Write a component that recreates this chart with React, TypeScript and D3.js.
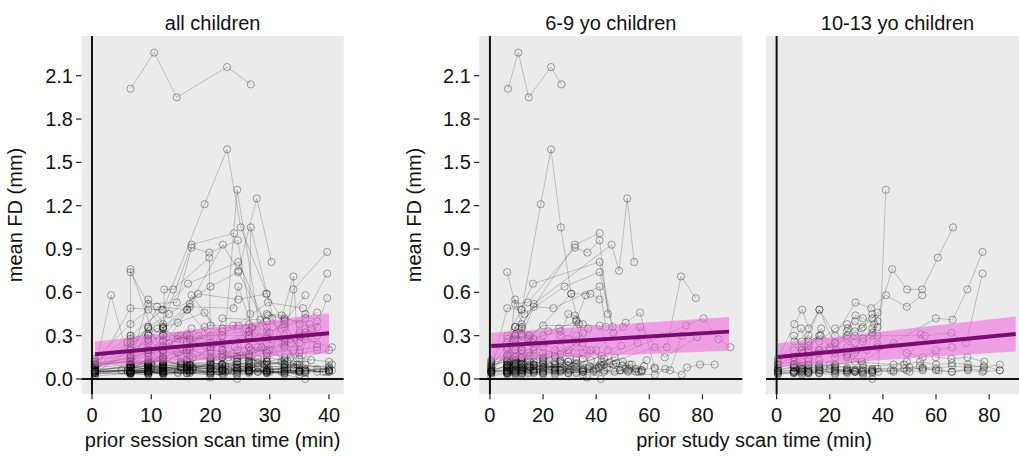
import React from "react";
import * as d3 from "d3";

// each scan: [prior session scan time (min), prior study scan time (min), mean FD (mm)]
type Scan = [number, number, number];

const kids6to9: Scan[][] = [
  [[6.5, 6.8, 2.01], [10.5, 10.7, 2.26], [14.3, 14.6, 1.95], [22.8, 23.0, 2.16], [26.8, 26.9, 2.04]],
  [[0.5, 0.5, 0.12], [6.5, 6.5, 0.3], [12, 12, 0.48], [19, 19.1, 1.21], [22.8, 23.0, 1.59], [25.1, 26.7, 1.05], [29.5, 30.6, 0.59], [32.5, 33.5, 0.38], [35, 36.5, 0.2]],
  [[0.5, 0.5, 0.08], [6.5, 6.5, 0.16], [9.5, 9.5, 0.28], [12, 12, 0.36], [16.5, 16.5, 0.52], [22.1, 45.8, 0.93], [24.7, 48.6, 0.75], [27.8, 51.7, 1.25], [30.3, 54.3, 0.81]],
  [[6.5, 6.5, 0.1], [9.5, 9.5, 0.55], [12, 12, 0.38], [16.8, 32.0, 0.93], [24.0, 41.3, 1.01]],
  [[6.5, 6.5, 0.74], [9.5, 9.5, 0.52], [14.3, 14.3, 0.53], [16.8, 32.0, 0.91], [19.8, 36.7, 0.875], [24.6, 41.3, 0.96], [26.7, 44.4, 0.45]],
  [[0.5, 0.5, 0.06], [6.5, 6.5, 0.49], [11.8, 11.8, 0.48], [16.2, 16.2, 0.66], [24.7, 41.3, 0.81], [29.5, 46.2, 0.36]],
  [[0.5, 0.5, 0.04], [6.5, 6.5, 0.2], [9.5, 9.5, 0.36], [13, 13, 0.45], [20, 28.1, 0.64], [24.7, 41.3, 0.74], [30, 46.5, 0.32]],
  [[6.5, 6.5, 0.06], [9.5, 9.5, 0.15], [12, 12, 0.3], [16.5, 16.5, 0.5], [23.9, 23.9, 0.49], [24.7, 41.3, 0.64], [27, 43.6, 0.36]],
  [[6.5, 6.5, 0.08], [9.5, 9.5, 0.12], [12, 12, 0.22], [17.9, 30.6, 0.59], [29.4, 37.8, 0.59], [24.7, 41.3, 0.55]],
  [[0.5, 0.5, 0.05], [6.5, 6.5, 0.1], [9.5, 9.5, 0.27], [12, 12, 0.2], [15, 15, 0.3], [20, 20, 0.37], [24.7, 41.3, 0.37], [26.8, 44.4, 0.2], [32.5, 49.4, 0.23]],
  [[6.5, 6.5, 0.08], [12, 12, 0.06], [20, 20, 0.05], [29.5, 29.5, 0.07], [35, 35, 0.05], [24.1, 62.1, 0.22], [28.6, 66.6, 0.22], [34.0, 71.9, 0.71], [39.7, 77.5, 0.56]],
  [[0.5, 0.5, 0.05], [9.5, 9.5, 0.06], [16.5, 16.5, 0.1], [26.5, 26.5, 0.08], [35, 35, 0.06], [23.8, 73.8, 0.37], [30.4, 80.4, 0.42], [36, 86, 0.275], [40.5, 90.5, 0.22]],
  [[6.5, 6.5, 0.04], [12, 12, 0.05], [20, 20, 0.04], [29.5, 29.5, 0.05], [12.1, 62.1, 0.03], [16, 66, 0.07], [22.2, 72.2, 0.03], [24.2, 74.2, 0.08], [29.1, 79.1, 0.1], [34.6, 84.6, 0.1]],
  [[0.5, 0.5, 0.06], [6.5, 6.5, 0.05], [12, 12, 0.07], [24.5, 24.5, 0.06], [32.5, 32.5, 0.08], [12, 50.2, 0.36], [14.5, 51.1, 0.39], [19, 56.5, 0.46], [24.5, 62.1, 0.07], [29.5, 67.8, 0.06], [35, 72.2, 0.3]],
  [[6.5, 6.5, 0.05], [9.5, 9.5, 0.06], [15, 15, 0.08], [20, 20, 0.07], [26.5, 26.5, 0.06], [13, 55.6, 0.25], [19, 56.5, 0.36], [23, 65.8, 0.15], [35.2, 78, 0.29]],
  [[0.5, 0.5, 0.04], [6.5, 6.5, 0.04], [9.5, 9.5, 0.05], [12, 12, 0.04], [16.5, 16.5, 0.05], [20, 20, 0.04], [24.5, 24.5, 0.05], [29.5, 29.5, 0.04], [35, 35, 0.05], [40, 40, 0.07]],
  [[6.5, 6.5, 0.05], [9.5, 9.5, 0.07], [12, 12, 0.09], [15, 15, 0.06], [20, 20, 0.1], [24.5, 24.5, 0.08], [29.5, 29.5, 0.12], [32.5, 32.5, 0.1]],
  [[0.5, 0.5, 0.1], [6.5, 6.5, 0.12], [9.5, 9.5, 0.1], [12, 12, 0.15], [16.5, 16.5, 0.12], [22, 22, 0.1], [26.5, 26.5, 0.13], [32.5, 32.5, 0.11], [19.9, 36.5, 0.01], [24.5, 41.7, 0.0]],
  [[6.5, 6.5, 0.06], [9.5, 9.5, 0.08], [12, 12, 0.1], [14.5, 14.5, 0.18], [20, 20, 0.22], [26.5, 26.5, 0.3], [29.5, 29.5, 0.45], [32, 32, 0.44], [35, 35, 0.38]],
  [[6.5, 6.5, 0.22], [9.5, 9.5, 0.36], [12, 12, 0.31], [16.5, 16.5, 0.28], [20, 20, 0.18], [24.5, 24.5, 0.15], [29.5, 29.5, 0.12]],
  [[0.5, 0.5, 0.07], [6.5, 6.5, 0.08], [9.5, 9.5, 0.09], [12, 12, 0.06], [15, 15, 0.08], [20, 37.5, 0.09], [24.5, 42, 0.12], [29.5, 47, 0.15], [35, 52.5, 0.1]],
  [[6.5, 6.5, 0.1], [9.5, 9.5, 0.13], [12, 12, 0.12], [16.5, 16.5, 0.09], [20, 37, 0.07], [24.5, 41.5, 0.1], [26.5, 44, 0.08], [32.5, 49.8, 0.09], [36, 53.4, 0.1], [40, 57.3, 0.06]],
  [[6.5, 6.5, 0.05], [9.5, 9.5, 0.04], [12, 12, 0.06], [14.5, 14.5, 0.04], [20, 20, 0.05], [22.5, 39, 0.05], [26.5, 43, 0.06], [30, 47, 0.05], [35, 52, 0.06], [39, 56, 0.05]],
  [[0.5, 0.5, 0.13], [6.5, 6.5, 0.17], [9.5, 9.5, 0.3], [12, 12, 0.27], [16, 16, 0.25], [20, 20, 0.3], [26.5, 26.5, 0.33], [29.5, 29.5, 0.28], [32.5, 32.5, 0.41], [35, 35, 0.18]],
  [[6.5, 6.5, 0.09], [9.5, 9.5, 0.18], [12, 12, 0.2], [15, 15, 0.16], [20, 20, 0.14], [24.5, 24.5, 0.16], [29.5, 29.5, 0.18], [32.5, 32.5, 0.22], [35, 35, 0.14], [40, 40, 0.2]],
  [[0.5, 0.5, 0.05], [6.5, 6.5, 0.07], [9.5, 9.5, 0.1], [12, 12, 0.08], [16.5, 16.5, 0.06], [21, 38, 0.13], [25, 42, 0.16], [29.5, 46.5, 0.1], [33, 50, 0.12], [38, 55, 0.05]],
  [[6.5, 6.5, 0.04], [9.5, 9.5, 0.05], [12, 12, 0.04], [16.5, 16.5, 0.07], [24.5, 24.5, 0.06], [12, 35, 0.07], [16, 39, 0.06], [20, 43, 0.05], [26.5, 49, 0.06], [32.5, 55, 0.07], [37, 59, 0.13]],
  [[0.5, 0.5, 0.09], [6.5, 6.5, 0.13], [9.5, 9.5, 0.16], [12, 12, 0.11], [16.5, 16.5, 0.2], [20, 20, 0.25], [24.5, 24.5, 0.2], [26.5, 26.5, 0.17], [32.5, 32.5, 0.25], [35, 35, 0.32]],
  [[6.5, 6.5, 0.28], [9.5, 9.5, 0.31], [11, 11, 0.35], [14.5, 14.5, 0.3], [16.5, 16.5, 0.27], [22, 22, 0.33], [26, 26, 0.35], [32.5, 32.5, 0.4], [36, 36, 0.58]],
  [[6.5, 6.5, 0.03], [9.5, 9.5, 0.06], [12, 12, 0.03], [16.5, 16.5, 0.05], [20, 20, 0.06], [24.5, 24.5, 0.03], [29.5, 29.5, 0.04], [32.5, 32.5, 0.05], [35, 35, 0.03]],
  [[0.5, 0.5, 0.11], [6.5, 6.5, 0.14], [9.5, 9.5, 0.11], [12, 12, 0.13], [15, 15, 0.1], [20, 20, 0.12], [22.5, 22.5, 0.09], [26.5, 26.5, 0.11]],
  [[6.5, 6.5, 0.07], [9.5, 9.5, 0.09], [12, 12, 0.14], [16.5, 16.5, 0.1], [20, 20, 0.08], [10, 45, 0.11], [16, 51, 0.07], [22, 57, 0.06], [28, 62, 0.08]],
  [[0.5, 0.5, 0.05], [6.5, 6.5, 0.06], [9.5, 9.5, 0.04], [12, 12, 0.07], [14.5, 14.5, 0.05], [16.5, 16.5, 0.06], [20, 20, 0.08], [24.5, 24.5, 0.07], [26.5, 26.5, 0.05], [30, 30, 0.06]],
  [[6.5, 6.5, 0.09], [9.5, 9.5, 0.1], [12, 12, 0.08], [15, 15, 0.12], [20, 20, 0.15], [24.5, 24.5, 0.12], [9.5, 42, 0.09], [15, 47.5, 0.11], [20, 52.5, 0.07], [26.5, 58, 0.09]],
  [[0.5, 0.5, 0.02], [6.5, 6.5, 0.04], [9.5, 9.5, 0.03], [12, 12, 0.05], [16.5, 16.5, 0.04], [20, 20, 0.03], [24.5, 24.5, 0.04], [26.5, 26.5, 0.06], [32.5, 32.5, 0.04], [35, 35, 0.06], [40, 40, 0.05]],
  [[6.5, 6.5, 0.12], [9.5, 9.5, 0.2], [12, 12, 0.35], [14.5, 14.5, 0.28], [16.5, 16.5, 0.16], [22, 22, 0.17], [26.5, 26.5, 0.22], [32.5, 32.5, 0.15], [38, 38, 0.2], [24.5, 43, 0.14]],
  [[0.5, 0.5, 0.08], [6.5, 6.5, 0.25], [9.5, 9.5, 0.3], [12, 12, 0.15], [16.5, 16.5, 0.22], [20, 20, 0.13], [29.5, 29.5, 0.2], [32.5, 32.5, 0.3], [35, 35, 0.25], [37, 37, 0.35]],
  [[6.5, 6.5, 0.06], [9.5, 9.5, 0.05], [12, 12, 0.08], [16.5, 16.5, 0.09], [24.5, 41, 0.08], [26.5, 43, 0.1], [32.5, 49, 0.06], [35, 52, 0.05], [40, 57, 0.05]],
  [[0.5, 0.5, 0.06], [6.5, 6.5, 0.09], [9.5, 9.5, 0.11], [12, 12, 0.1], [15, 15, 0.09], [20, 20, 0.11], [24.5, 24.5, 0.1], [26.5, 26.5, 0.12], [29.5, 29.5, 0.09], [32.5, 32.5, 0.13]],
];

const kids10to13: Scan[][] = [
  [[0.5, 0.5, 0.08], [6.5, 6.5, 0.1], [12, 12, 0.12], [20, 20, 0.2], [26.5, 26.5, 0.16], [32.5, 32.5, 0.1], [6.5, 43.5, 0.76], [12.2, 49.1, 0.62], [13.7, 54.8, 0.62], [19.8, 60.7, 0.84], [26.8, 66.4, 1.05]],
  [[0.5, 0.5, 0.06], [6.5, 6.5, 0.09], [16.1, 16.1, 0.48], [22, 22, 0.3], [29.7, 29.7, 0.53], [35.6, 35.6, 0.49], [3.2, 41.2, 0.58], [11, 49, 0.5], [16.8, 54.8, 0.58]],
  [[0.5, 0.5, 0.05], [6.5, 6.5, 0.06], [9.5, 9.5, 0.05], [16, 16, 0.07], [22, 22, 0.06], [29.5, 29.5, 0.05], [36, 36, 0.04], [21.5, 38.3, 0.05], [24.5, 41.1, 1.31]],
  [[0.5, 0.5, 0.05], [9.5, 9.5, 0.07], [20, 20, 0.1], [32, 32, 0.12], [22, 59.9, 0.42], [28.4, 66.2, 0.41], [34, 71.8, 0.62], [39.7, 77.5, 0.88]],
  [[6.5, 6.5, 0.1], [16, 16, 0.2], [26.5, 26.5, 0.3], [18, 55.8, 0.3], [27.5, 65.8, 0.32], [33.5, 71.3, 0.25], [39.7, 77.5, 0.73]],
  [[0.5, 0.5, 0.14], [6.5, 6.7, 0.38], [9.5, 9.6, 0.48], [12, 12.1, 0.35], [16, 16.1, 0.48], [22, 22.5, 0.2], [27, 26.9, 0.35], [29.7, 29.7, 0.44], [32.5, 32.5, 0.42], [36.7, 36.7, 0.38]],
  [[0.5, 0.5, 0.12], [6.5, 6.7, 0.26], [9.5, 9.2, 0.35], [12, 12, 0.2], [16.8, 16.8, 0.35], [20, 20, 0.22], [26.5, 26.5, 0.28], [30, 30, 0.2], [36, 36, 0.3], [38, 38, 0.24]],
  [[6.5, 6.5, 0.05], [9.5, 9.5, 0.06], [12, 12, 0.04], [16, 16, 0.05], [22, 22, 0.06], [26.5, 26.5, 0.07], [32, 32, 0.05], [36, 36, 0.06], [6, 44, 0.05], [11, 49, 0.06], [17, 55, 0.08], [22, 60, 0.06], [28, 66, 0.05], [34, 72, 0.06], [39.5, 77.5, 0.05], [40, 84, 0.06]],
  [[0.5, 0.5, 0.04], [6.5, 6.5, 0.04], [9.5, 9.5, 0.05], [12, 12, 0.04], [16, 16, 0.04], [22, 22, 0.05], [26.5, 26.5, 0.05], [29.5, 29.5, 0.06], [32.5, 32.5, 0.04], [36, 36, 0.05]],
  [[6.5, 6.5, 0.08], [9.5, 9.5, 0.12], [12, 12, 0.1], [16, 16, 0.13], [22, 22, 0.1], [29.5, 29.5, 0.12], [6.5, 44, 0.1], [11, 49, 0.12], [16, 54.2, 0.31], [22, 59.9, 0.15], [28, 65.8, 0.14], [33.5, 71.8, 0.15], [40, 78.2, 0.12]],
  [[0.5, 0.5, 0.1], [6.5, 6.5, 0.15], [9.5, 9.5, 0.2], [12, 12, 0.26], [16.5, 16.5, 0.3], [22, 22, 0.25], [26.5, 26.5, 0.33], [29.5, 29.5, 0.4], [32, 32, 0.35], [36, 36, 0.42], [38, 38, 0.46]],
  [[6.5, 6.5, 0.04], [9.5, 9.5, 0.03], [12, 12, 0.05], [16, 16, 0.04], [22, 22, 0.03], [26.5, 26.5, 0.04], [29.5, 29.5, 0.05], [32.5, 32.5, 0.03], [36, 36, 0.0]],
  [[0.5, 0.5, 0.06], [6.5, 6.5, 0.08], [9.5, 9.5, 0.07], [12, 12, 0.09], [16, 16, 0.1], [22, 22, 0.09], [26.5, 26.5, 0.08], [10, 48, 0.07], [16, 54, 0.09], [22, 60, 0.07], [28, 66, 0.09], [34, 72, 0.08], [40, 78, 0.09], [40.5, 84, 0.06]],
  [[6.5, 6.5, 0.3], [9.5, 9.5, 0.22], [12, 12, 0.18], [16, 16, 0.2], [22, 22, 0.15], [26.5, 26.5, 0.17], [29.5, 29.5, 0.25], [32.5, 32.5, 0.28], [36, 36, 0.32], [38, 38, 0.36]],
  [[0.5, 0.5, 0.03], [6.5, 6.5, 0.05], [9.5, 9.5, 0.08], [12, 12, 0.05], [16.5, 16.5, 0.06], [20, 20, 0.07], [26.5, 26.5, 0.06], [32.5, 32.5, 0.05], [36, 36, 0.07], [5, 43, 0.06], [12, 50, 0.08], [17, 55, 0.07], [23, 61, 0.06], [28, 66, 0.05], [34, 72, 0.07], [40, 78, 0.06]],
  [[6.5, 6.5, 0.15], [9.5, 9.5, 0.18], [12, 12, 0.14], [16, 16, 0.18], [22, 22, 0.25], [26.5, 26.5, 0.15], [29.5, 29.5, 0.18], [34, 34, 0.2], [38, 38, 0.22], [6, 44, 0.25], [11, 49, 0.18], [17, 55, 0.15], [22, 60, 0.2], [28, 66, 0.22]],
  [[0.5, 0.5, 0.04], [6.5, 6.5, 0.05], [9.5, 9.5, 0.06], [12, 12, 0.05], [16, 16, 0.06], [22, 22, 0.04], [26.5, 26.5, 0.06], [29.5, 29.5, 0.05], [32.5, 32.5, 0.06], [36, 36, 0.05], [6, 44, 0.06], [12, 50, 0.05], [17, 55, 0.06]],
  [[0.5, 0.5, 0.1], [6.5, 6.5, 0.12], [9.5, 9.5, 0.2], [12, 12, 0.23], [16, 16, 0.3], [22, 22, 0.18], [26.5, 26.5, 0.22], [29.5, 29.5, 0.3], [32.5, 32.5, 0.26], [36, 36, 0.35], [38, 38, 0.3]],
  [[6.5, 6.5, 0.05], [9.5, 9.5, 0.04], [12, 12, 0.06], [16, 16, 0.08], [22, 22, 0.07], [26.5, 26.5, 0.05], [29.5, 29.5, 0.06], [32.5, 32.5, 0.08], [36, 36, 0.06], [38, 38, 0.07]],
  [[0.5, 0.5, 0.07], [6.5, 6.5, 0.2], [9.5, 9.5, 0.26], [12, 12, 0.3], [16, 16, 0.26], [22, 22, 0.35], [26.5, 26.5, 0.38], [29.5, 29.5, 0.33], [32.5, 32.5, 0.36], [36, 36, 0.45], [38, 38, 0.4]],
  [[6.5, 6.5, 0.08], [9.5, 9.5, 0.09], [12, 12, 0.07], [16, 16, 0.09], [22, 22, 0.08], [10, 48, 0.1], [16, 54, 0.12], [22, 60, 0.1], [28, 66, 0.11], [34, 72, 0.1], [40, 78, 0.08], [40.5, 84, 0.1]],
];

const yTicks = [0, 0.3, 0.6, 0.9, 1.2, 1.5, 1.8, 2.1];
const xTicksSession = [0, 10, 20, 30, 40];
const xTicksStudy = [0, 20, 40, 60, 80];

// model fit (line) with confidence band, at the ends of the fitted range
const fitAllX = [0.5, 40];
const fitAllY = [0.172, 0.316];
const fitAllLo = [0.09, 0.178];
const fitAllHi = [0.258, 0.455];

const fit69X = [0.5, 90];
const fit69Y = [0.228, 0.328];
const fit69Lo = [0.13, 0.196];
const fit69Hi = [0.32, 0.43];

const fit1013X = [0.5, 90];
const fit1013Y = [0.152, 0.312];
const fit1013Lo = [0.085, 0.19];
const fit1013Hi = [0.247, 0.432];

const FONT = "'Liberation Sans', Arial, Helvetica, sans-serif";
const TOP = 36;
const BOTTOM = 394.3;

type Fit = { x: number[]; y: number[]; lo: number[]; hi: number[] };

function Panel(props: {
  title: string;
  left: number;
  right: number;
  xDomain: [number, number];
  subjects: Scan[][];
  xi: number;
  xTicks: number[];
  fit: Fit;
  showY: boolean;
}) {
  const { title, left, right, xDomain, subjects, xi, xTicks, fit, showY } = props;
  const x = d3.scaleLinear().domain(xDomain).range([left, right]);
  const y = d3.scaleLinear().domain([-0.106, 2.375]).range([BOTTOM, TOP]);
  const line = d3
    .line<Scan>()
    .x((d) => x(d[xi]))
    .y((d) => y(d[2]));
  const fitPts = fit.x.map((v, i) => ({ x: v, y: fit.y[i], lo: fit.lo[i], hi: fit.hi[i] }));
  const area = d3
    .area<{ x: number; lo: number; hi: number }>()
    .x((d) => x(d.x))
    .y0((d) => y(d.lo))
    .y1((d) => y(d.hi));
  const fitLine = d3
    .line<{ x: number; y: number }>()
    .x((d) => x(d.x))
    .y((d) => y(d.y));
  const x0 = x(0);
  const y0 = y(0);
  return (
    <g>
      <rect x={left} y={TOP} width={right - left} height={BOTTOM - TOP} fill="#ebebeb" />
      <text x={(left + right) / 2} y={30} textAnchor="middle" fontFamily={FONT} fontSize={20} fill="#111">
        {title}
      </text>
      <line x1={left} x2={right} y1={y0} y2={y0} stroke="#111" strokeWidth={2} />
      <line x1={x0} x2={x0} y1={TOP} y2={BOTTOM} stroke="#111" strokeWidth={2} />
      {subjects.map((s, i) => {
        const sorted = [...s].sort((a, b) => a[xi] - b[xi]);
        return (
          <path key={"l" + i} d={line(sorted) || ""} fill="none" stroke="#000" strokeOpacity={0.3} strokeWidth={0.7} />
        );
      })}
      {subjects.map((s, i) =>
        s.map((d, j) => (
          <circle
            key={"c" + i + "-" + j}
            cx={x(d[xi])}
            cy={y(d[2])}
            r={3.6}
            fill="none"
            stroke="#000"
            strokeOpacity={0.45}
            strokeWidth={0.8}
          />
        ))
      )}
      <path d={area(fitPts) || ""} fill="#f060dc" fillOpacity={0.55} />
      <path d={fitLine(fitPts) || ""} fill="none" stroke="#780a70" strokeWidth={4} />
      {xTicks.map((t) => (
        <g key={"xt" + t}>
          <line x1={x(t)} x2={x(t)} y1={BOTTOM} y2={BOTTOM + 5} stroke="#222" strokeWidth={1.2} />
          <text x={x(t)} y={422} textAnchor="middle" fontFamily={FONT} fontSize={20} fill="#111">
            {t}
          </text>
        </g>
      ))}
      {showY &&
        yTicks.map((t) => (
          <g key={"yt" + t}>
            <line x1={left - 5.5} x2={left} y1={y(t)} y2={y(t)} stroke="#222" strokeWidth={1.2} />
            <text x={left - 8.5} y={y(t)} dy="0.35em" textAnchor="end" fontFamily={FONT} fontSize={20} fill="#111">
              {t.toFixed(1)}
            </text>
          </g>
        ))}
    </g>
  );
}

export default function App() {
  const all = [...kids6to9, ...kids10to13];
  return (
    <svg
      width={1019}
      height={457}
      style={{ position: "absolute", left: 0, top: 0, background: "#fff" }}
    >
      <rect x={0} y={0} width={1019} height={457} fill="#fff" />
      <Panel
        title="all children"
        left={81.5}
        right={343.7}
        xDomain={[-1.77, 42.48]}
        subjects={all}
        xi={0}
        xTicks={xTicksSession}
        fit={{ x: fitAllX, y: fitAllY, lo: fitAllLo, hi: fitAllHi }}
        showY={true}
      />
      <Panel
        title="6-9 yo children"
        left={479.3}
        right={742.3}
        xDomain={[-4, 95]}
        subjects={kids6to9}
        xi={1}
        xTicks={xTicksStudy}
        fit={{ x: fit69X, y: fit69Y, lo: fit69Lo, hi: fit69Hi }}
        showY={true}
      />
      <Panel
        title="10-13 yo children"
        left={766}
        right={1029}
        xDomain={[-4, 95]}
        subjects={kids10to13}
        xi={1}
        xTicks={xTicksStudy}
        fit={{ x: fit1013X, y: fit1013Y, lo: fit1013Lo, hi: fit1013Hi }}
        showY={false}
      />
      <text transform="translate(22,215) rotate(-90)" textAnchor="middle" fontFamily={FONT} fontSize={20} fill="#111">
        mean FD (mm)
      </text>
      <text transform="translate(421,215) rotate(-90)" textAnchor="middle" fontFamily={FONT} fontSize={20} fill="#111">
        mean FD (mm)
      </text>
      <text x={212.6} y={447} textAnchor="middle" fontFamily={FONT} fontSize={20} fill="#111">
        prior session scan time (min)
      </text>
      <text x={754} y={447} textAnchor="middle" fontFamily={FONT} fontSize={20} fill="#111">
        prior study scan time (min)
      </text>
    </svg>
  );
}
